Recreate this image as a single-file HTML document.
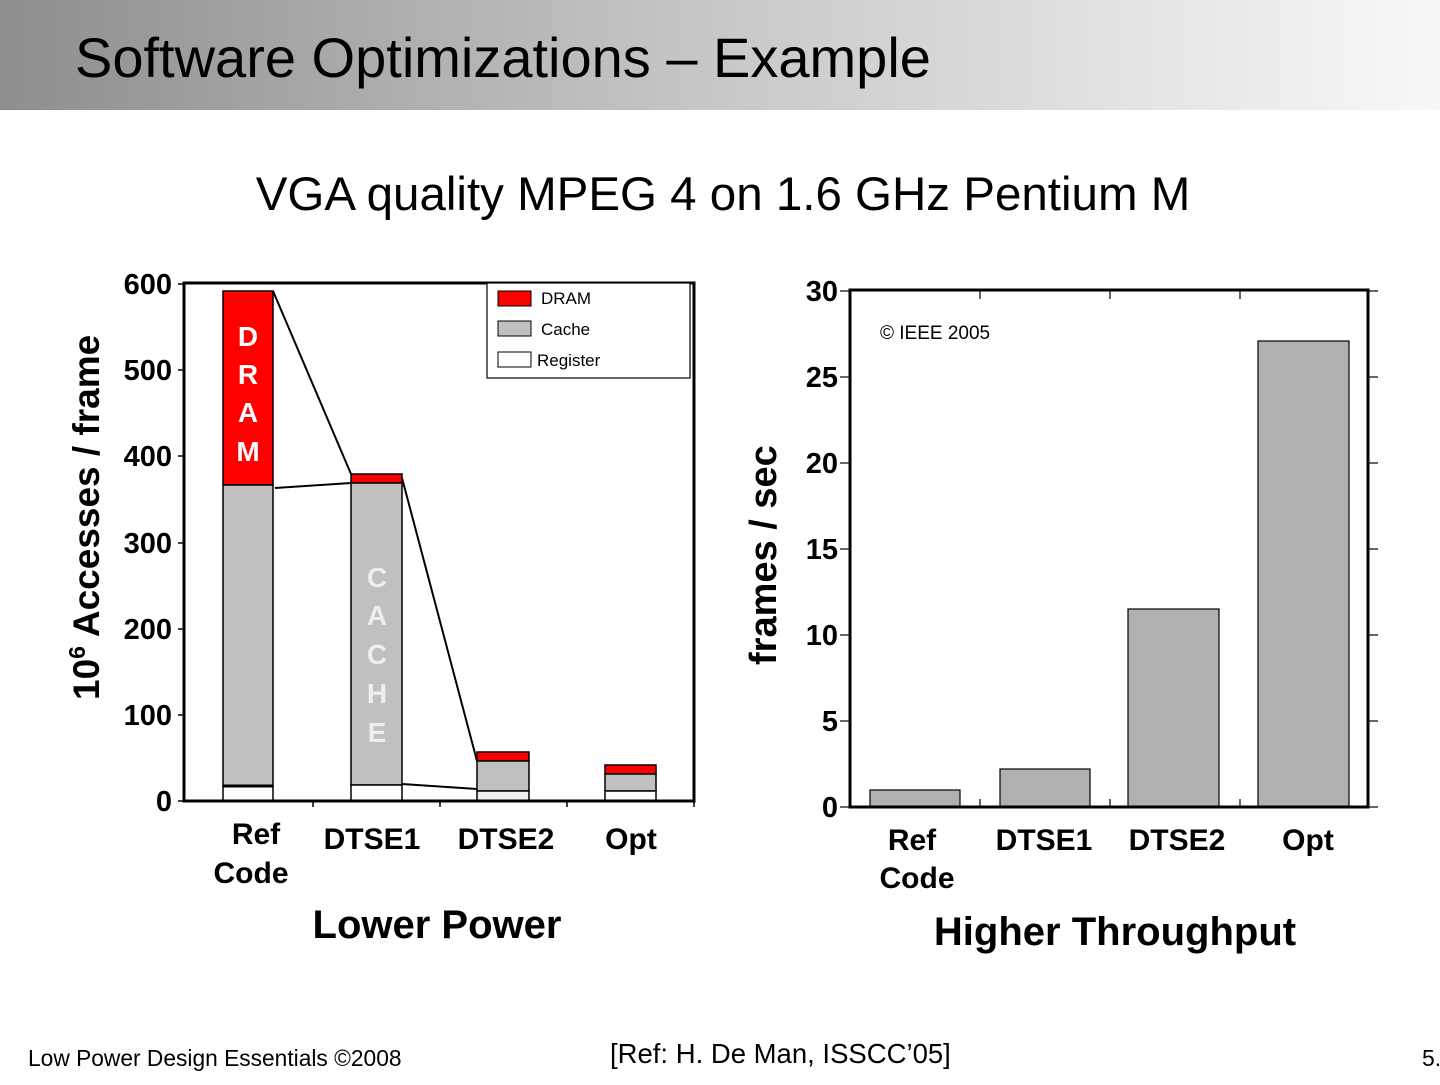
<!DOCTYPE html>
<html><head><meta charset="utf-8"><style>
body{margin:0;width:1440px;height:1080px;overflow:hidden;background:#fff;font-family:"Liberation Sans",sans-serif}
</style></head><body>
<svg width="1440" height="1080" xmlns="http://www.w3.org/2000/svg" font-family="Liberation Sans, sans-serif">
<defs><linearGradient id="g" x1="0" x2="1" y1="0" y2="0"><stop offset="0" stop-color="#8e8e8e"/><stop offset="0.5" stop-color="#c8c8c8"/><stop offset="1" stop-color="#f8f8f8"/></linearGradient></defs>
<rect x="0" y="0" width="1440" height="110" fill="url(#g)"/>
<text x="75" y="77" font-size="56">Software Optimizations – Example</text>
<text x="723" y="210" font-size="47.5" text-anchor="middle">VGA quality MPEG 4 on 1.6 GHz Pentium M</text>

<!-- Left chart -->
<g stroke="#000" stroke-width="1.5">
<rect x="223" y="291" width="50" height="194" fill="#ff0000"/>
<rect x="223" y="485" width="50" height="301" fill="#c0c0c0"/>
<rect x="223" y="786" width="50" height="15" fill="#fff"/>
<rect x="351" y="474" width="51" height="9" fill="#ff0000"/>
<rect x="351" y="483" width="51" height="302" fill="#c0c0c0"/>
<rect x="351" y="785" width="51" height="16" fill="#fff"/>
<rect x="477" y="752" width="52" height="9" fill="#ff0000"/>
<rect x="477" y="761" width="52" height="30" fill="#c0c0c0"/>
<rect x="477" y="791" width="52" height="10" fill="#eee"/>
<rect x="605" y="765" width="51" height="9" fill="#ff0000"/>
<rect x="605" y="774" width="51" height="17" fill="#c0c0c0"/>
<rect x="605" y="791" width="51" height="10" fill="#fff"/>
</g>
<g stroke="#000" stroke-width="2">
<line x1="273" y1="291" x2="351" y2="474"/>
<line x1="275" y1="488" x2="351" y2="483"/>
<line x1="402" y1="478" x2="477" y2="761"/>
<line x1="402" y1="784" x2="477" y2="789"/>
<line x1="223" y1="786" x2="273" y2="786" stroke-width="3"/>
</g>
<rect x="184" y="283" width="510" height="518" fill="none" stroke="#000" stroke-width="3"/>
<g stroke="#000" stroke-width="1.5">
<line x1="178" y1="284" x2="184" y2="284"/><line x1="178" y1="370" x2="184" y2="370"/><line x1="178" y1="456" x2="184" y2="456"/><line x1="178" y1="543" x2="184" y2="543"/><line x1="178" y1="629" x2="184" y2="629"/><line x1="178" y1="715" x2="184" y2="715"/><line x1="178" y1="801" x2="184" y2="801"/>
<line x1="313" y1="801" x2="313" y2="807"/><line x1="440" y1="801" x2="440" y2="807"/><line x1="567" y1="801" x2="567" y2="807"/><line x1="694" y1="801" x2="694" y2="807"/>
</g>
<g font-size="29" font-weight="bold" text-anchor="end">
<text x="172" y="294">600</text><text x="172" y="380">500</text><text x="172" y="466">400</text><text x="172" y="553">300</text><text x="172" y="639">200</text><text x="172" y="725">100</text><text x="172" y="811">0</text>
</g>
<g font-size="28" font-weight="bold" fill="#fff" text-anchor="middle">
<text x="248" y="346">D</text><text x="248" y="384">R</text><text x="248" y="422">A</text><text x="248" y="461">M</text>
<text x="377" y="587" fill="#eee">C</text><text x="377" y="625" fill="#eee">A</text><text x="377" y="664" fill="#eee">C</text><text x="377" y="703" fill="#eee">H</text><text x="377" y="742" fill="#eee">E</text>
</g>
<rect x="487" y="283" width="203" height="95" fill="#fff" stroke="#000" stroke-width="1.2"/>
<rect x="498" y="291" width="33" height="15" fill="#ff0000" stroke="#000"/>
<rect x="498" y="321" width="33" height="15" fill="#c0c0c0" stroke="#000"/>
<rect x="498" y="352" width="33" height="15" fill="#fff" stroke="#000"/>
<g font-size="17"><text x="541" y="304">DRAM</text><text x="541" y="335">Cache</text><text x="537" y="366">Register</text></g>
<text transform="translate(99 700) rotate(-90)" font-size="37" font-weight="bold">10<tspan font-size="23" dy="-14">6</tspan><tspan dy="14"> Accesses / frame</tspan></text>
<g font-size="30" font-weight="bold" text-anchor="middle">
<text x="256" y="844">Ref</text><text x="251" y="883">Code</text>
<text x="372" y="849">DTSE1</text><text x="506" y="849">DTSE2</text><text x="631" y="849">Opt</text>
<text x="437" y="938" font-size="40">Lower Power</text>
</g>

<!-- Right chart -->
<g stroke="#000" stroke-width="1.2" fill="#b0b0b0">
<rect x="870" y="790" width="90" height="17"/>
<rect x="1000" y="769" width="90" height="38"/>
<rect x="1128" y="609" width="91" height="198"/>
<rect x="1258" y="341" width="91" height="466"/>
</g>
<rect x="850" y="290" width="518" height="517" fill="none" stroke="#000" stroke-width="3"/>
<g stroke="#000" stroke-width="1.2">
<line x1="840" y1="291" x2="850" y2="291"/><line x1="840" y1="377" x2="850" y2="377"/><line x1="840" y1="463" x2="850" y2="463"/><line x1="840" y1="549" x2="850" y2="549"/><line x1="840" y1="635" x2="850" y2="635"/><line x1="840" y1="721" x2="850" y2="721"/><line x1="840" y1="807" x2="850" y2="807"/>
<line x1="1368" y1="291" x2="1378" y2="291"/><line x1="1368" y1="377" x2="1378" y2="377"/><line x1="1368" y1="463" x2="1378" y2="463"/><line x1="1368" y1="549" x2="1378" y2="549"/><line x1="1368" y1="635" x2="1378" y2="635"/><line x1="1368" y1="721" x2="1378" y2="721"/><line x1="1368" y1="807" x2="1378" y2="807"/>
<line x1="980" y1="291" x2="980" y2="299"/><line x1="1110" y1="291" x2="1110" y2="299"/><line x1="1240" y1="291" x2="1240" y2="299"/>
<line x1="980" y1="799" x2="980" y2="807"/><line x1="1110" y1="799" x2="1110" y2="807"/><line x1="1240" y1="799" x2="1240" y2="807"/>
</g>
<g font-size="29" font-weight="bold" text-anchor="end">
<text x="838" y="301">30</text><text x="838" y="387">25</text><text x="838" y="473">20</text><text x="838" y="559">15</text><text x="838" y="645">10</text><text x="838" y="731">5</text><text x="838" y="817">0</text>
</g>
<text x="880" y="339" font-size="19">© IEEE 2005</text>
<text transform="translate(776 665) rotate(-90)" font-size="38" font-weight="bold">frames / sec</text>
<g font-size="30" font-weight="bold" text-anchor="middle">
<text x="912" y="850">Ref</text><text x="917" y="888">Code</text>
<text x="1044" y="850">DTSE1</text><text x="1177" y="850">DTSE2</text><text x="1308" y="850">Opt</text>
<text x="1115" y="945" font-size="40">Higher Throughput</text>
</g>

<text x="610" y="1063" font-size="27.5">[Ref: H. De Man, ISSCC’05]</text>
<text x="28" y="1066" font-size="23" transform="translate(28 0) scale(0.99 1) translate(-28 0)">Low Power Design Essentials ©2008</text>
<text x="1422" y="1066" font-size="23">5.</text>
</svg>
</body></html>
